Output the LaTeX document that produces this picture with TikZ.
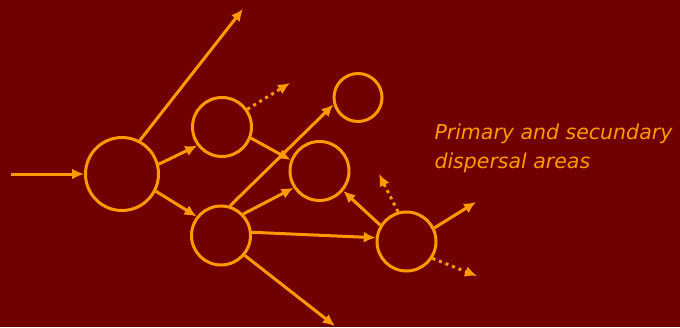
\documentclass[tikz,border=0pt]{standalone}
\usepackage{fontspec}
\setsansfont{DejaVu Sans}
\usetikzlibrary{arrows.meta}
\definecolor{bg}{RGB}{112,0,0}
\definecolor{amber}{RGB}{255,153,0}

\begin{document}
\begin{tikzpicture}[x=1pt,y=-1pt,line width=3pt,draw=amber,
		area/.style={circle,draw,inner sep=0pt,minimum size=#1},
		flow/.style={-{Latex[length=12pt,width=11pt]}},
		stray/.style={flow,dash pattern=on 3pt off 4pt}]
		\fill [bg] (0,0) rectangle (680,327);
		\useasboundingbox (0,0) rectangle (680,327);
		\node [area=73pt] (0) at (122,174) {};
		\node [area=59pt] (1) at (222,127) {};
		\node [area=59pt] (2) at (221,235.5) {};
		\node [area=59pt] (3) at (319.5,171) {};
		\node [area=48pt] (4) at (358,97.5) {};
		\node [area=59pt] (5) at (406.5,241.5) {};
		\coordinate (in) at (11,174);
		\coordinate (n) at (243,9);
		\coordinate (s) at (335,326);
		\coordinate (b1) at (290,83);
		\coordinate (f1) at (379,174);
		\coordinate (f2) at (476,202);
		\coordinate (f3) at (477,276);
		\draw [flow] (in) -- (0.west);
		\draw [flow] (0.62) -- (n);
		\draw [flow] (0.15) -- (1.217);
		\draw [flow] (0.333) -- (2.142);
		\draw [flow] (1.339) -- (3.159);
		\draw [stray] (1.35) -- (b1);
		\draw [flow] (2.73) -- (4.196);
		\draw [flow] (2.44) -- (3.213);
		\draw [flow] (2.6) -- (5.173);
		\draw [flow] (2.320) -- (s);
		\draw [flow] (5.148) -- (3.320);
		\draw [stray] (5.106) -- (f1);
		\draw [flow] (5.26) -- (f2);
		\draw [stray] (5.327) -- (f3);
		\node [text=amber,inner sep=0pt,align=left,anchor=base west,
			font=\sffamily\itshape\fontsize{20.5}{29}\selectfont] (label) at (433,168)
			{Primary and secundary\\dispersal areas};
	\end{tikzpicture}
\end{document}
